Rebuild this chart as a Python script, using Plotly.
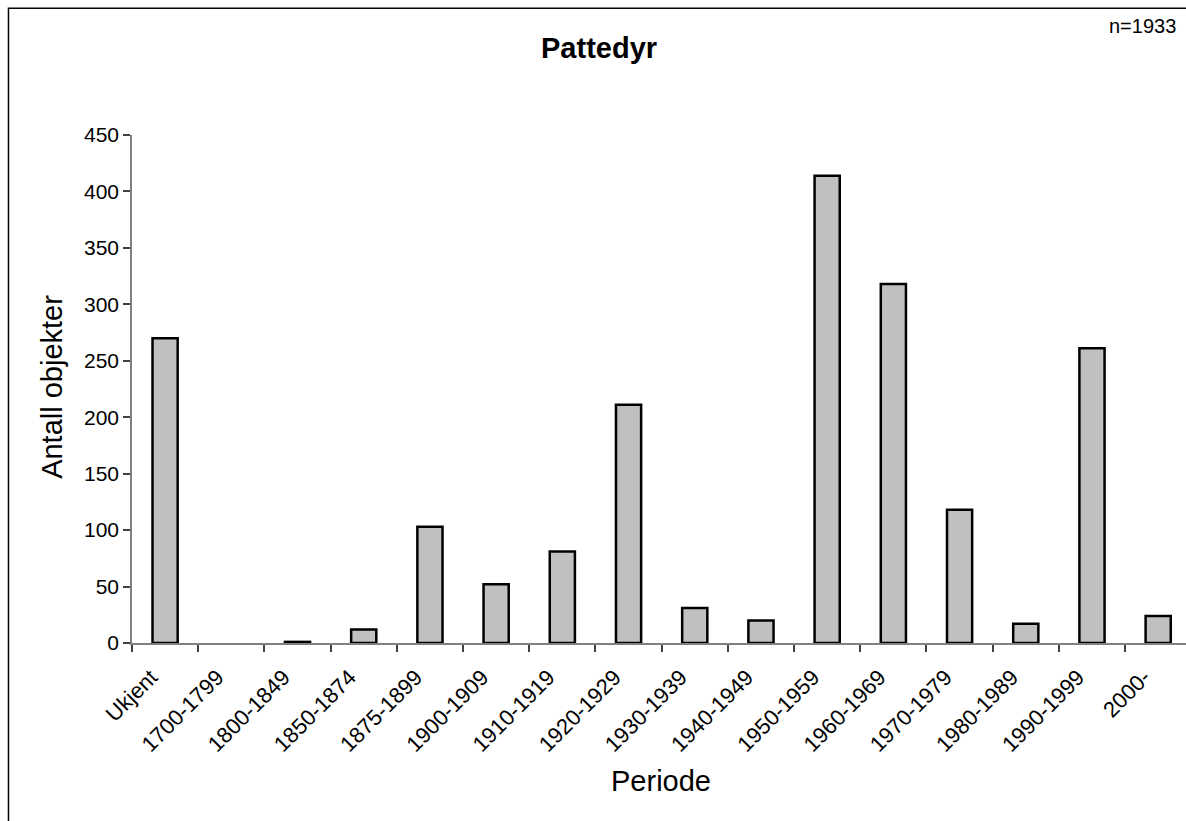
import plotly.graph_objects as go

# Number of mammal objects per period
periods = ["Ukjent", "1700-1799", "1800-1849", "1850-1874", "1875-1899",
           "1900-1909", "1910-1919", "1920-1929", "1930-1939", "1940-1949",
           "1950-1959", "1960-1969", "1970-1979", "1980-1989", "1990-1999",
           "2000-"]
counts = [270, 0, 1, 12, 103, 52, 81, 211, 31, 20, 414, 318, 118, 17, 261, 24]

title_text = "Pattedyr"
n_text = "n=1933"
x_title = "Periode"
y_title = "Antall objekter"

FONT = "Arial, 'Liberation Sans', sans-serif"

# empty periods get no outline, so nothing is drawn for them
outline_widths = [2.5 if c > 0 else 0 for c in counts]

fig = go.Figure(
    go.Bar(
        x=periods,
        y=counts,
        width=0.38,
        marker=dict(color="#C0C0C0",
                    line=dict(color="#000000", width=outline_widths)),
    )
)

fig.update_layout(
    width=1186,
    height=821,
    margin=dict(l=132, r=0, t=135, b=178),
    paper_bgcolor="white",
    plot_bgcolor="white",
    showlegend=False,
    font=dict(family=FONT, color="#000000", size=20),
)

fig.update_xaxes(
    type="category",
    range=[-0.5, 15.42],
    showline=True,
    linecolor="#808080",
    linewidth=1.5,
    ticks="outside",
    tickson="boundaries",
    ticklen=7,
    tickcolor="#404040",
    tickwidth=1.5,
    tickangle=-45,
    ticklabelstandoff=11,
    ticklabelshift=-14,
    tickfont=dict(family=FONT, size=22, color="#000000"),
    showgrid=False,
    zeroline=False,
)

fig.update_yaxes(
    range=[0, 450],
    dtick=50,
    showline=True,
    linecolor="#808080",
    linewidth=1.5,
    ticks="outside",
    ticklen=7,
    tickcolor="#404040",
    tickwidth=1.5,
    tickfont=dict(family=FONT, size=21, color="#000000"),
    showgrid=False,
    zeroline=False,
)

# Chart frame (extends past the right and bottom edges of the page)
fig.add_shape(
    type="rect", xref="paper", yref="paper",
    x0=-0.1172, x1=1.2, y0=-0.5, y1=1.2497,
    line=dict(color="#000000", width=1.5),
    fillcolor="rgba(0,0,0,0)",
    layer="below",
)

fig.add_annotation(
    text=f"<b>{title_text}</b>", xref="paper", yref="paper",
    x=0.443, y=1.171, xanchor="center", yanchor="middle",
    showarrow=False, font=dict(family=FONT, size=29, color="#000000"),
)
fig.add_annotation(
    text=n_text, xref="paper", yref="paper",
    x=0.9924, y=1.2146, xanchor="right", yanchor="middle",
    showarrow=False, font=dict(family=FONT, size=20, color="#000000"),
)
fig.add_annotation(
    text=x_title, xref="paper", yref="paper",
    x=0.502, y=-0.2717, xanchor="center", yanchor="middle",
    showarrow=False, font=dict(family=FONT, size=29, color="#000000"),
)
fig.add_annotation(
    text=y_title, xref="paper", yref="paper",
    x=-0.076, y=0.504, xanchor="center", yanchor="middle",
    textangle=-90,
    showarrow=False, font=dict(family=FONT, size=29, color="#000000"),
)

fig.write_html("out.html")
